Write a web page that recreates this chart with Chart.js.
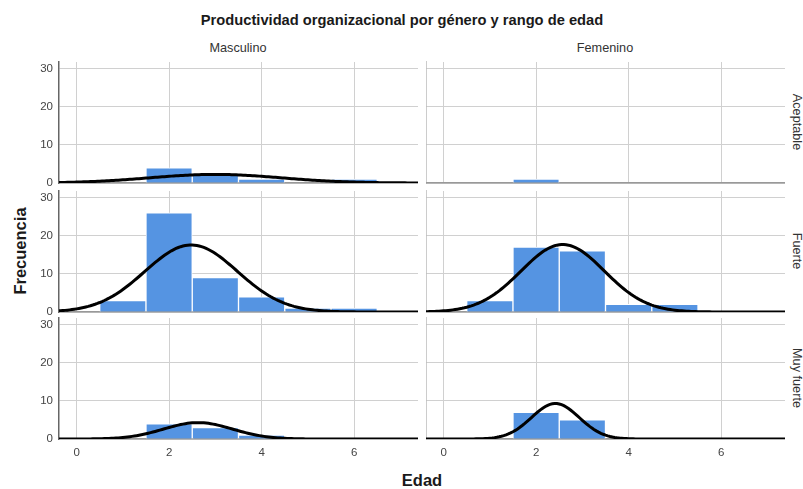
<!DOCTYPE html>
<html>
<head>
<meta charset="utf-8">
<script src="https://cdn.jsdelivr.net/npm/chart.js@4.4.1/dist/chart.umd.min.js"></script>
<style>
  body { margin: 0; background: #fff; font-family: "Liberation Sans", Arial, sans-serif; }
  #wrap { position: relative; width: 803px; height: 489px; overflow: hidden; }
  #wrap canvas { position: absolute; }
  .lbl { position: absolute; white-space: nowrap; transform: translate(-50%, -50%); }
</style>
</head>
<body>
<div id="wrap">
  <div class="lbl" style="left:402px;top:20px;font-size:14.7px;font-weight:bold;color:#1a1a1a;">Productividad organizacional por género y rango de edad</div>
  <div class="lbl" style="left:238px;top:48px;font-size:12.7px;color:#333;">Masculino</div>
  <div class="lbl" style="left:605px;top:48px;font-size:12.7px;color:#333;">Femenino</div>
  <div class="lbl" style="left:20px;top:251px;font-size:16.5px;font-weight:bold;color:#1a1a1a;transform:translate(-50%,-50%) rotate(-90deg);">Frecuencia</div>
  <div class="lbl" style="left:422px;top:480px;font-size:16.5px;font-weight:bold;color:#1a1a1a;">Edad</div>
  <div class="lbl" style="left:797px;top:122px;font-size:12.7px;color:#333;transform:translate(-50%,-50%) rotate(90deg);">Aceptable</div>
  <div class="lbl" style="left:797px;top:251px;font-size:12.7px;color:#333;transform:translate(-50%,-50%) rotate(90deg);">Fuerte</div>
  <div class="lbl" style="left:797px;top:378px;font-size:12.7px;color:#333;transform:translate(-50%,-50%) rotate(90deg);">Muy fuerte</div>
</div>
<script>
// histogram bins (Edad, width 1, centred on the integer)
const bins = [1, 2, 3, 4, 5, 6];

// counts per panel
const mascAceptable = [0, 4, 2, 1, 0, 1];
const mascFuerte    = [3, 26, 9, 4, 1, 1];
const mascMuyFuerte = [0, 4, 3, 1, 0, 0];
const femAceptable  = [0, 1, 0, 0, 0, 0];
const femFuerte     = [3, 17, 16, 2, 2, 0];
const femMuyFuerte  = [0, 7, 5, 0, 0, 0];

const xTicks = [0, 2, 4, 6];
const yTicks = [0, 10, 20, 30];

const BAR   = '#5594e2';
const GRID  = '#d0d0d0';

Chart.defaults.font.family = '"Liberation Sans", Arial, sans-serif';

// normal curve fitted to the binned counts (what SPSS overlays)
function normalFit(counts) {
  const n = counts.reduce((s, c) => s + c, 0);
  if (n < 2) return null;
  const mean = counts.reduce((s, c, i) => s + c * bins[i], 0) / n;
  const ss   = counts.reduce((s, c, i) => s + c * (bins[i] - mean) ** 2, 0);
  const sd   = Math.sqrt(ss / (n - 1));
  return x => n / (sd * Math.sqrt(2 * Math.PI)) * Math.exp(-0.5 * ((x - mean) / sd) ** 2);
}

const curveX = [];
for (let i = 0; i <= 160; i++) curveX.push(-0.4 + i * 0.05);

// panel boxes: column -> canvas left/width and y-axis width, row -> plot top/bottom
const cols = [{ left: 19, width: 399, axisW: 40 }, { left: 426, width: 359, axisW: 0 }];
const rows = [{ top: 62, bottom: 183 }, { top: 191, bottom: 312 }, { top: 318, bottom: 439 }];

// keep tick labels from pushing the plot area around
function noOverhang(s) {
  s.paddingTop = 0; s.paddingBottom = 0; s.paddingLeft = 0; s.paddingRight = 0;
}

function makePanel(counts, col, row) {
  const c = cols[col], r = rows[row];
  const isLeft = col === 0, isBottom = row === 2;
  const padBottom = isBottom ? 0 : 7;
  const axisH = isBottom ? 22 : 0;

  const canvas = document.createElement('canvas');
  canvas.width  = c.width;
  canvas.height = 8 + (r.bottom - r.top) + padBottom + axisH;
  canvas.style.left = c.left + 'px';
  canvas.style.top  = (r.top - 8) + 'px';
  document.getElementById('wrap').appendChild(canvas);

  const datasets = [{
    type: 'bar',
    data: bins.map((b, i) => ({ x: b, y: counts[i] })),
    backgroundColor: BAR,
    borderColor: '#fff',
    borderWidth: 1,
    borderSkipped: 'start',
    barPercentage: 1,
    categoryPercentage: 1,
    order: 2,
  }];

  const fit = normalFit(counts);
  if (fit) {
    datasets.push({
      type: 'line',
      data: curveX.map(x => ({ x, y: fit(x) })),
      borderColor: '#000',
      borderWidth: 3,
      pointRadius: 0,
      tension: 0,
      order: 1,
    });
  }

  new Chart(canvas, {
    type: 'bar',
    data: { datasets },
    options: {
      responsive: false,
      animation: false,
      events: [],
      layout: { padding: { top: 8, bottom: padBottom, left: 0, right: 0 } },
      plugins: { legend: { display: false }, tooltip: { enabled: false } },
      scales: {
        x: {
          type: 'linear',
          min: -0.38,
          max: 7.38,
          offset: false,
          afterBuildTicks: s => { s.ticks = xTicks.map(v => ({ value: v })); },
          afterFit: s => { s.height = axisH; noOverhang(s); },
          ticks: { display: isBottom, color: '#444', font: { size: 11.5 }, padding: 7 },
          grid: { color: GRID, drawTicks: false, offset: false },
          border: { color: '#999', width: 1.5 },
        },
        y: {
          min: 0,
          max: 31.7,
          afterBuildTicks: s => { s.ticks = yTicks.map(v => ({ value: v })); },
          afterFit: s => { s.width = c.axisW; noOverhang(s); },
          ticks: { display: isLeft, color: '#444', font: { size: 11.5 }, padding: 6 },
          grid: { color: GRID, drawTicks: false },
          border: { color: isLeft ? '#666' : '#999', width: 1.5 },
        },
      },
    },
  });
}

makePanel(mascAceptable, 0, 0);
makePanel(femAceptable,  1, 0);
makePanel(mascFuerte,    0, 1);
makePanel(femFuerte,     1, 1);
makePanel(mascMuyFuerte, 0, 2);
makePanel(femMuyFuerte,  1, 2);
</script>
</body>
</html>
